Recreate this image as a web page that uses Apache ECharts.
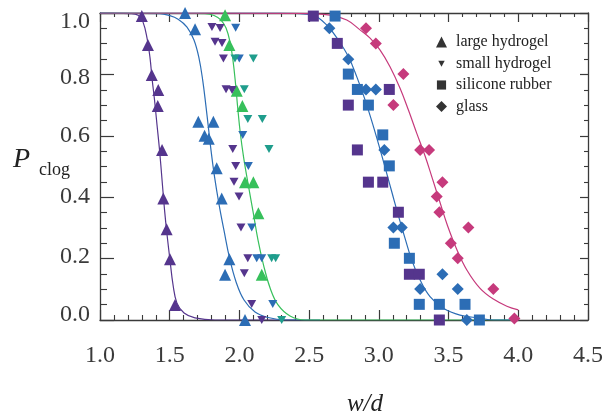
<!DOCTYPE html>
<html><head><meta charset="utf-8">
<script src="https://cdn.jsdelivr.net/npm/echarts@6/dist/echarts.min.js"></script>
<style>html,body{margin:0;padding:0;background:#fff}#c{width:606px;height:413px}</style>
</head><body><div id="c"></div>
<script>
// ---- tick labels ----
const xTickValues = [1.0, 1.5, 2.0, 2.5, 3.0, 3.5, 4.0, 4.5];
const yTickValues = [0.0, 0.2, 0.4, 0.6, 0.8, 1.0];
const legendNames = ['large hydrogel', 'small hydrogel', 'silicone rubber', 'glass'];

// ---- measured points [w/d, P_clog] ----
const largeHydrogelA = [[1.30,0.99],[1.344,0.896],[1.371,0.798],[1.418,0.749],[1.414,0.697],[1.445,0.554],[1.454,0.396],[1.478,0.296],[1.502,0.198],[1.538,0.049]];
const largeHydrogelB = [[1.610,1.0],[1.682,0.947],[1.705,0.646],[1.813,0.646],[1.75,0.60],[1.78,0.59],[1.837,0.494],[1.873,0.396],[1.928,0.198],[1.897,0.147],[2.040,0.0]];
const largeHydrogelC = [[1.897,0.993],[1.928,0.896],[1.981,0.747],[2.021,0.697],[2.040,0.449],[2.100,0.449],[2.136,0.348],[2.160,0.147]];
const smallHydrogelA = [[1.803,0.954],[1.861,0.951],[1.825,0.906],[1.875,0.902],[1.885,0.852],[1.904,0.752],[1.947,0.749],[1.952,0.557],[1.973,0.502],[1.961,0.450],[1.997,0.402],[2.011,0.301],[2.060,0.201],[2.035,0.152],[2.088,0.052],[2.160,0.0]];
const smallHydrogelB = [[1.973,0.952],[1.999,0.852],[2.024,0.603],[2.064,0.502],[2.088,0.301],[2.124,0.201],[2.160,0.201],[2.239,0.052]];
const smallHydrogelC = [[1.968,0.852],[2.100,0.852],[2.035,0.752],[2.060,0.655],[2.164,0.655],[2.212,0.557],[2.231,0.201],[2.260,0.201],[2.303,0.0]];
const siliconeA = [[2.530,0.99],[2.702,0.901],[3.075,0.751],[2.781,0.700],[2.846,0.554],[2.925,0.449],[3.028,0.449],[3.140,0.351],[3.219,0.149],[3.290,0.149],[3.434,0.0]];
const siliconeB = [[2.686,0.99],[2.781,0.801],[2.846,0.751],[2.925,0.700],[3.028,0.603],[3.075,0.502],[3.111,0.250],[3.219,0.201],[3.290,0.051],[3.434,0.051],[3.618,0.051],[3.721,0.0]];
const glassA = [[2.645,0.950],[2.781,0.849],[2.908,0.751],[2.978,0.751],[3.039,0.554],[3.104,0.301],[3.164,0.301],[3.456,0.149],[3.296,0.101],[3.566,0.101],[3.631,0.0]];
const glassB = [[2.908,0.950],[2.978,0.901],[3.176,0.801],[3.104,0.700],[3.296,0.554],[3.360,0.554],[3.456,0.449],[3.415,0.402],[3.434,0.351],[3.642,0.301],[3.516,0.250],[3.566,0.201],[3.821,0.101],[3.972,0.005]];

// ---- fitted curves ----
const fitLargeA = [[1.0,1.0],[1.215,0.998],[1.273,0.993],[1.308,0.971],[1.337,0.919],[1.359,0.853],[1.373,0.788],[1.391,0.717],[1.409,0.635],[1.427,0.554],[1.445,0.456],[1.463,0.358],[1.481,0.277],[1.502,0.195],[1.524,0.114],[1.552,0.055],[1.603,0.023],[1.681,0.007],[1.825,0.0],[2.435,0.0]];
const fitLargeB = [[1.0,1.0],[1.430,0.998],[1.488,0.993],[1.560,0.980],[1.624,0.954],[1.674,0.912],[1.710,0.853],[1.737,0.780],[1.759,0.700],[1.778,0.625],[1.797,0.550],[1.821,0.468],[1.854,0.376],[1.890,0.290],[1.929,0.202],[1.976,0.124],[2.033,0.065],[2.112,0.026],[2.205,0.008],[2.327,0.0],[2.578,0.0]];
const fitLargeC = [[1.0,1.0],[1.753,0.998],[1.818,0.992],[1.868,0.977],[1.904,0.951],[1.933,0.905],[1.954,0.845],[1.972,0.770],[1.988,0.690],[2.006,0.610],[2.030,0.530],[2.062,0.444],[2.098,0.352],[2.133,0.261],[2.173,0.179],[2.220,0.104],[2.277,0.049],[2.363,0.013],[2.471,0.0],[4.0,0.0]];
const fitSilicone = [[1.0,1.0],[2.291,1.0],[2.435,0.998],[2.528,0.993],[2.626,0.961],[2.709,0.912],[2.781,0.858],[2.842,0.792],[2.901,0.717],[2.958,0.635],[3.006,0.560],[3.052,0.485],[3.096,0.412],[3.140,0.340],[3.188,0.266],[3.236,0.195],[3.296,0.130],[3.367,0.076],[3.463,0.038],[3.582,0.016],[3.726,0.006],[3.819,0.0],[4.0,0.0]];
const fitGlass = [[1.0,1.0],[2.435,0.999],[2.650,0.993],[2.770,0.977],[2.865,0.945],[2.937,0.918],[3.009,0.879],[3.080,0.825],[3.152,0.755],[3.212,0.684],[3.272,0.608],[3.331,0.535],[3.383,0.462],[3.437,0.385],[3.492,0.308],[3.559,0.230],[3.631,0.163],[3.726,0.103],[3.821,0.068],[3.918,0.045],[4.0,0.033]];

const PURPLE = '#55358d', BLUE = '#2c6db5', GREEN = '#37c05b', TEAL = '#1f9d8c', MAGENTA = '#c63a7c';
const FONT = 'Liberation Serif';
const AX = '#3a3a3a';
const INV_TRI = 'path://M0,0L12,0L6,10Z';

function line(data, color) {
  return { type: 'line', data, smooth: 0.4, symbol: 'none', silent: true, clip: true,
    lineStyle: { color, width: 1.2 }, z: 2 };
}
function pts(name, data, color, symbol, size) {
  return { name, type: 'scatter', data, symbol, symbolSize: size,
    itemStyle: { color, opacity: 1 }, z: 3, silent: true };
}

const chart = echarts.init(document.getElementById('c'), null, { renderer: 'canvas' });

const axCommon = {
  type: 'value', splitLine: { show: false }, minorSplitLine: { show: false },
  axisLine: { onZero: false, lineStyle: { color: AX, width: 1.3 } }
};
const yRich = {
  t: { padding: [18, 0, 0, 0], fontSize: 24, fontFamily: FONT, color: AX },
  m8: { padding: [6, 0, 0, 0], fontSize: 24, fontFamily: FONT, color: AX },
  m2: { padding: [0, 0, 4, 0], fontSize: 24, fontFamily: FONT, color: AX },
  b: { padding: [0, 0, 10, 0], fontSize: 24, fontFamily: FONT, color: AX },
  n: { fontSize: 24, fontFamily: FONT, color: AX }
};

chart.setOption({
  animation: false,
  backgroundColor: '#fff',
  grid: { left: 100, right: 18, top: 13, bottom: 93, containLabel: false, outerBoundsMode: 'none' },
  legend: {
    left: 436, top: 34, orient: 'vertical', padding: 0, itemGap: 5.5,
    itemWidth: 11, itemHeight: 11, selectedMode: false,
    textStyle: { fontFamily: FONT, fontSize: 16, color: '#222', lineHeight: 16, padding: [0, 0, 0, 4] },
    data: [
      { name: legendNames[0], icon: 'triangle' },
      { name: legendNames[1], icon: 'path://M0,0M12,12M2.5,3L9.5,3L6,9.5Z' },
      { name: legendNames[2], icon: 'path://M0,0M12,12M1,1L11,1L11,11L1,11Z' },
      { name: legendNames[3], icon: 'diamond' }
    ]
  },
  xAxis: [
    Object.assign({}, axCommon, {
      position: 'bottom', min: 1, max: 4.5, interval: 0.5,
      axisTick: { inside: true, length: 10, lineStyle: { color: AX, width: 1.2 } },
      minorTick: { show: true, splitNumber: 5, length: 5, lineStyle: { color: AX, width: 1.1 } },
      axisLabel: { margin: 24, fontSize: 24, fontFamily: FONT, color: AX,
        formatter: v => xTickValues.some(t => Math.abs(t - v) < 1e-6) ? v.toFixed(1) : '' },
      name: 'w/d', nameLocation: 'middle', nameGap: 72, nameMoveOverlap: false,
      nameTextStyle: { fontFamily: FONT, fontStyle: 'italic', fontSize: 25, color: '#222', padding: [0, 0, 0, 42] }
    }),
    Object.assign({}, axCommon, {
      position: 'top', min: 1, max: 4.5, interval: 0.5,
      axisTick: { inside: true, length: 9, lineStyle: { color: AX, width: 1.2 } },
      minorTick: { show: true, splitNumber: 5, length: 4, lineStyle: { color: AX, width: 1.1 } },
      axisLabel: { show: false }
    })
  ],
  yAxis: [
    Object.assign({}, axCommon, {
      position: 'left', min: 0, max: 1, interval: 0.2,
      axisTick: { inside: true, length: 14, lineStyle: { color: AX, width: 1.2 } },
      minorTick: { show: true, splitNumber: 4, length: 7, lineStyle: { color: AX, width: 1.1 } },
      axisLabel: { margin: 10, fontSize: 24, fontFamily: FONT, color: AX, rich: yRich,
        formatter: v => {
          if (!yTickValues.some(t => Math.abs(t - v) < 1e-6)) return '';
          const s = v.toFixed(1);
          if (Math.abs(v - 1) < 1e-6) return '{t|' + s + '}';
          if (Math.abs(v) < 1e-6) return '{b|' + s + '}';
          if (Math.abs(v - 0.8) < 1e-6) return '{m8|' + s + '}';
          if (Math.abs(v - 0.2) < 1e-6) return '{m2|' + s + '}';
          return '{n|' + s + '}';
        } },
      name: '{p|P}{s|clog}', nameLocation: 'middle', nameGap: 30, nameRotate: 0, nameMoveOverlap: false,
      nameTextStyle: { rich: {
        p: { fontFamily: FONT, fontStyle: 'italic', fontSize: 28, color: '#222', verticalAlign: 'bottom', padding: [0, 0, 14, 0] },
        s: { fontFamily: FONT, fontSize: 18, color: '#222', verticalAlign: 'bottom', padding: [0, 0, 8, 9] }
      } }
    }),
    Object.assign({}, axCommon, {
      position: 'right', min: 0, max: 1, interval: 0.2,
      axisTick: { inside: true, length: 8, lineStyle: { color: AX, width: 1.2 } },
      minorTick: { show: true, splitNumber: 4, length: 4, lineStyle: { color: AX, width: 1.1 } },
      axisLabel: { show: false }
    })
  ],
  series: [
    line(fitLargeA, PURPLE),
    line(fitLargeB, BLUE),
    line(fitLargeC, GREEN),
    line(fitSilicone, BLUE),
    line(fitGlass, MAGENTA),
    pts('lh A', largeHydrogelA, PURPLE, 'triangle', [12, 12]),
    pts('lh B', largeHydrogelB, BLUE, 'triangle', [12, 12]),
    pts('lh C', largeHydrogelC, GREEN, 'triangle', [12, 12]),
    pts('sh A', smallHydrogelA, PURPLE, INV_TRI, [9, 8]),
    pts('sh B', smallHydrogelB, BLUE, INV_TRI, [9, 8]),
    pts('sh C', smallHydrogelC, TEAL, INV_TRI, [9, 8]),
    pts('sr A', siliconeA, PURPLE, 'rect', [11, 11]),
    pts('sr B', siliconeB, BLUE, 'rect', [11, 11]),
    pts('gl A', glassA, BLUE, 'diamond', [12, 12]),
    pts('gl B', glassB, MAGENTA, 'diamond', [12, 12]),
    { name: legendNames[0], type: 'scatter', data: [], itemStyle: { color: '#000' }, symbol: 'triangle' },
    { name: legendNames[1], type: 'scatter', data: [], itemStyle: { color: '#000' }, symbol: INV_TRI },
    { name: legendNames[2], type: 'scatter', data: [], itemStyle: { color: '#000' }, symbol: 'rect' },
    { name: legendNames[3], type: 'scatter', data: [], itemStyle: { color: '#000' }, symbol: 'diamond' }
  ]
});
</script></body></html>
